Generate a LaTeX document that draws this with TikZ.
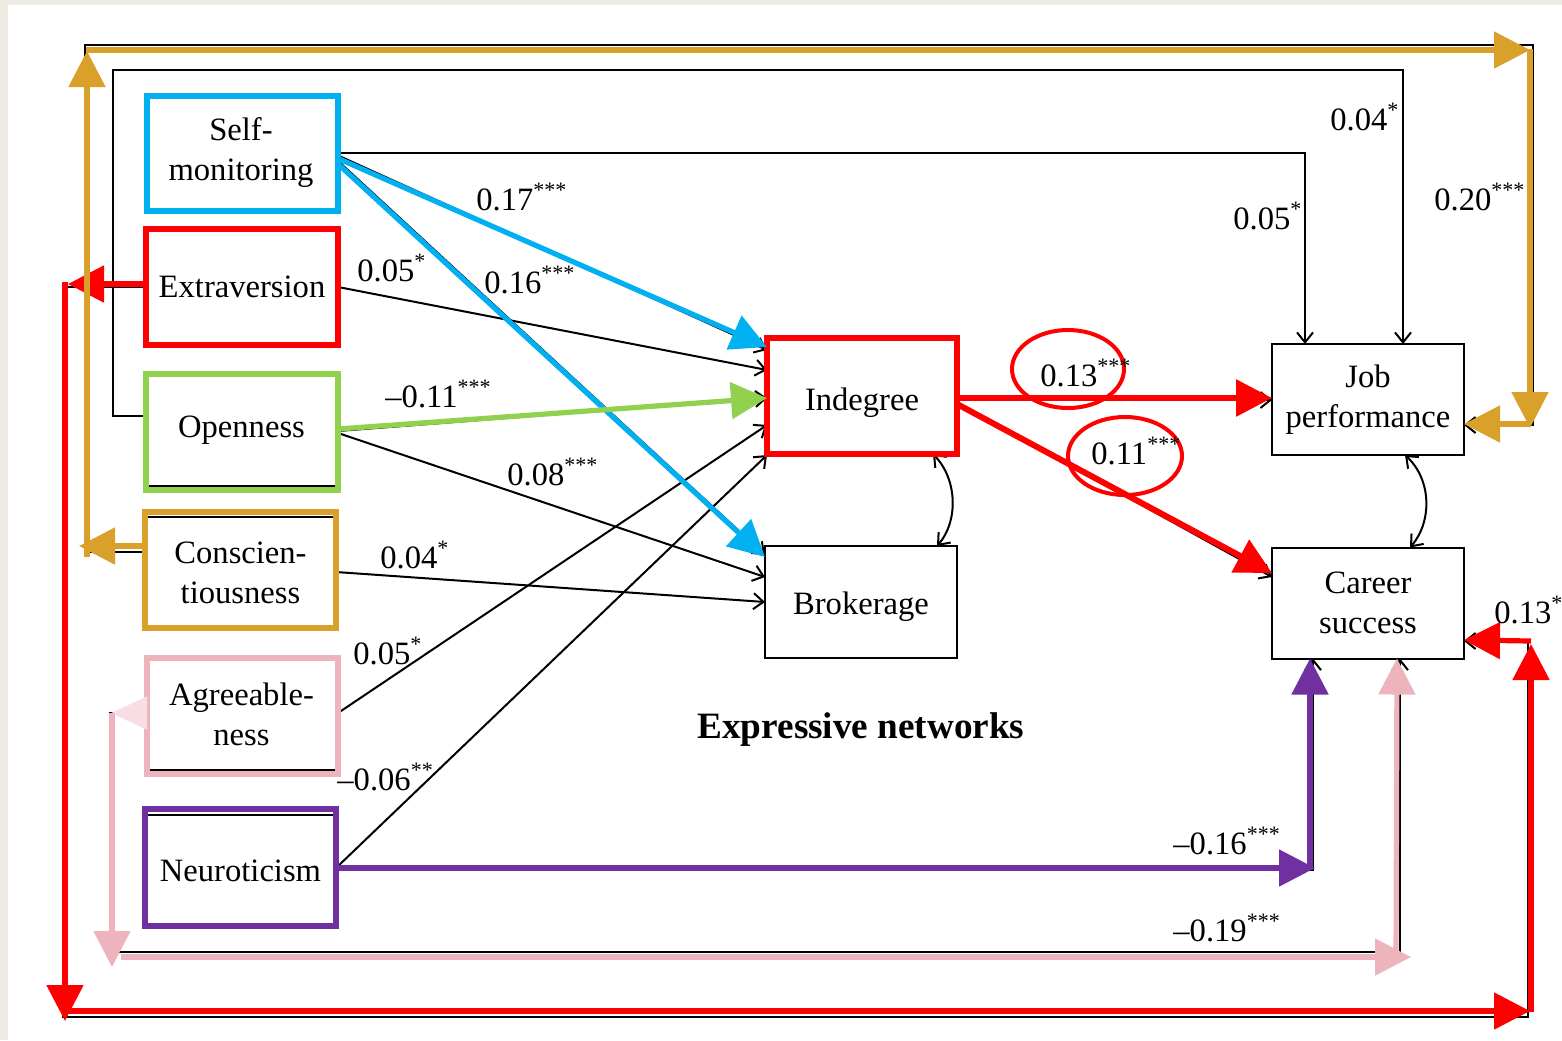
\documentclass[tikz,border=0pt]{standalone}
\usepackage{fontspec}
\setmainfont{Liberation Serif}
\usetikzlibrary{arrows.meta,calc}
\definecolor{cblue}{HTML}{00B0F0}
\definecolor{cred}{HTML}{FF0000}
\definecolor{cgreen}{HTML}{92D050}
\definecolor{cgold}{HTML}{D9A12A}
\definecolor{cpink}{HTML}{EEB4BD}
\definecolor{cpinkL}{HTML}{F8DEE4}
\definecolor{cpurple}{HTML}{7030A0}
\definecolor{beige}{HTML}{EEEBE3}
\newcommand\sg[1]{\raisebox{6.5pt}{\fontsize{11}{11}\selectfont #1}}
\tikzset{
  box/.style={draw=black, line width=1pt, inner sep=0pt, outer sep=0pt, align=center,
    font=\fontsize{16.3}{20}\selectfont},
  blk/.style={draw=black, line width=1pt},
  blkarr/.style={blk, -{Straight Barb[length=5pt,width=8pt]}},
  big/.style={line width=2.6pt, -{Triangle[length=18pt,width=18pt]}},
  lab/.style={anchor=base west, inner sep=0pt, font=\fontsize{16.3}{20}\selectfont},
  ring/.style={draw=cred, line width=2pt},
  hl/.style={line width=2.6pt},
}
\begin{document}
\begin{tikzpicture}[x=0.5pt,y=-0.5pt]
\useasboundingbox (0,0) rectangle (1562,1040);
\fill[white] (0,0) rectangle (1562,1040);
\fill[beige] (0,0) rectangle (1562,5);
\fill[beige] (0,0) rectangle (8,1040);

% nodes
\node[box, minimum width=96pt, minimum height=56.5pt] (sm) at (241,153) {Self-\\monitoring};
\node[box, minimum width=96pt, minimum height=58pt] (ex) at (242,287) {Extraversion};
\node[box, minimum width=96.5pt, minimum height=56pt] (op) at (241.5,430) {Openness};
\node[box, minimum width=95.5pt, minimum height=55.5pt] (co) at (240.5,572.5) {Conscien-\\tiousness};
\node[box, minimum width=96.5pt, minimum height=56pt] (ag) at (241.5,714) {Agreeable-\\ness};
\node[box, minimum width=95.5pt, minimum height=56pt] (ne) at (240.5,871) {Neuroticism};
\node[box, minimum width=95pt, minimum height=58pt, text depth=4pt, text height=18pt] (in) at (862,396) {Indegree};
\node[box, minimum width=96pt, minimum height=56pt, text depth=4pt, text height=16pt] (br) at (861,602) {Brokerage};
\node[box, minimum width=96pt, minimum height=55.5pt] (jp) at (1368,399.5) {Job\\performance};
\node[box, minimum width=96pt, minimum height=55.5pt] (cs) at (1368,603) {Career\\success};
\node[inner sep=0pt, font=\fontsize{18.6}{22}\selectfont\bfseries] (title) at (861,730) {Expressive networks};

% black connectors
\draw[blkarr] (sm.east |- 0,153) -- (1305,153) -- (jp.north -| 1305,0);
\draw[blkarr] (op.west |- 0,416) -- (113,416) -- (113,70) -- (1403,70) -- (jp.north -| 1403,0);
\draw[blkarr] (co.west |- 0,552) -- (85,552) -- (85,45) -- (1533,45) -- (1533,425) -- (jp.east |- 0,425);
\draw[blkarr] (ex.west |- 0,287) -- (63,287) -- (63,1017) -- (1528,1017) -- (1528,641) -- (cs.east |- 0,641);
\draw[blkarr] (ag.west |- 0,713) -- (110,713) -- (110,952) -- (1400,952) -- (cs.south -| 1400,0);
\draw[blkarr] (ne.east |- 0,870) -- (1313,870) -- (cs.south -| 1313,0);
\draw[blkarr] (sm.east |- 0,155) -- (in.west |- 0,350);
\draw[blkarr] (sm.east |- 0,160) -- (br.west |- 0,555);
\draw[blkarr] (ex.east |- 0,287) -- (in.west |- 0,370);
\draw[blkarr] (op.east |- 0,431) -- (in.west |- 0,398);
\draw[blkarr] (op.east |- 0,433) -- (br.west |- 0,577);
\draw[blkarr] (co.east |- 0,572) -- (br.west |- 0,602);
\draw[blkarr] (ag.east |- 0,713) -- (in.west |- 0,425);
\draw[blkarr] (ne.east |- 0,868) -- (in.west |- 0,455);
\draw[blkarr] (in.east |- 0,400) -- (jp.west |- 0,400);
\draw[blkarr] (in.east |- 0,403) -- (cs.west |- 0,577);
\draw[blk, {Straight Barb[length=5pt,width=8pt]}-{Straight Barb[length=5pt,width=8pt]}]
  (in.south -| 933,0) .. controls (958,480) and (958,522) .. (br.north -| 937,0);
\draw[blk, {Straight Barb[length=5pt,width=8pt]}-{Straight Barb[length=5pt,width=8pt]}]
  (jp.south -| 1405,0) .. controls (1432,480) and (1432,522) .. (cs.north -| 1410,0);

% coloured box outlines
\draw[cblue, hl] (147,96) rectangle (338,211);
\draw[cred, hl] (146,229) rectangle (338,345);
\draw[cgreen, hl] (146,374) rectangle (338,490);
\draw[cgold, hl] (145,512) rectangle (336,628);
\draw[cpink, hl] (147,658) rectangle (338,774);
\draw[cpurple, hl] (145,809) rectangle (336,926);
\draw[cred, line width=3pt] (767,338) rectangle (957,454);

% coloured overlays
\draw[big, cblue] (sm.east |- 0,158) -- (in.west |- 0,347);
\draw[big, cblue] (sm.east |- 0,163) -- (br.west |- 0,557);
\draw[big, cgreen] (op.east |- 0,429) -- (in.west |- 0,398);
\draw[big, cred, line width=3pt] (in.east |- 0,398) -- (jp.west |- 0,398);
\draw[big, cred, line width=3pt] (in.east |- 0,404) -- (cs.west |- 0,573);

\draw[big, cred] (ex.west |- 0,284) -- (68,284);
\draw[big, cred] (65,282) -- (65,1021);
\draw[big, cred] (65,1011) -- (1530,1011);
\draw[big, cred] (1531,1012) -- (1531,644);
\draw[big, cred] (1531,641) -- (cs.east |- 0,640);

\draw[big, cgold] (co.west |- 0,546) -- (79,546);
\draw[big, cgold] (87,557) -- (87,51);
\draw[big, cgold] (86,50) -- (1530,50);
\draw[big, cgold] (1530,49) -- (1530,428);
\draw[big, cgold] (1531,424) -- (jp.east |- 0,424);

\draw[line width=2.6pt, cpinkL, -{Triangle[length=18pt,width=16pt]}] (ag.west |- 0,713) -- (111,713);
\draw[big, cpink] (112,713) -- (112,967);
\draw[big, cpink] (121,957) -- (1411,957);
\draw[big, cpink] (1396,958) -- (cs.south -| 1397,0);

\draw[big, cpurple] (ne.east |- 0,868) -- (1315,868);
\draw[big, cpurple] (1310,870) -- (cs.south -| 1310,0);

\draw[ring] (1068,369) ellipse [x radius=28pt, y radius=19.5pt];
\draw[ring] (1125,456) ellipse [x radius=28.5pt, y radius=19.5pt];

% labels
\node[lab] (l1) at (476,210) {0.17\sg{***}};
\node[lab] (l2) at (357,281) {0.05\sg{*}};
\node[lab] (l3) at (484,293) {0.16\sg{***}};
\node[lab] (l4) at (385,407) {–0.11\sg{***}};
\node[lab] (l5) at (507,485) {0.08\sg{***}};
\node[lab] (l6) at (380,568) {0.04\sg{*}};
\node[lab] (l7) at (353,664) {0.05\sg{*}};
\node[lab] (l8) at (337,790) {–0.06\sg{**}};
\node[lab] (l9) at (1330,130) {0.04\sg{*}};
\node[lab] (l10) at (1233,229) {0.05\sg{*}};
\node[lab] (l11) at (1434,210) {0.20\sg{***}};
\node[lab] (l12) at (1040,386) {0.13\sg{***}};
\node[lab] (l13) at (1091,464) {0.11\sg{***}};
\node[lab] (l14) at (1494,623) {0.13\sg{*}};
\node[lab] (l15) at (1173,854) {–0.16\sg{***}};
\node[lab] (l16) at (1173,941) {–0.19\sg{***}};
\end{tikzpicture}
\end{document}
